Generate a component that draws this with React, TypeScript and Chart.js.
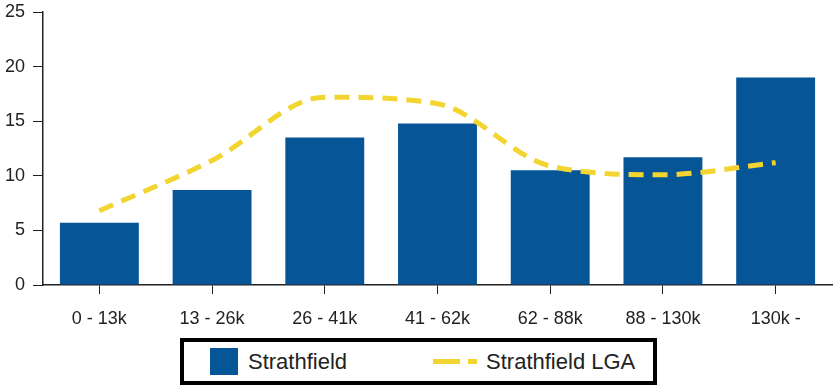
import React, { useEffect, useRef } from "react";
import { Chart, registerables } from "chart.js";

Chart.register(...registerables);

const categories = ["0 - 13k", "13 - 26k", "26 - 41k", "41 - 62k", "62 - 88k", "88 - 130k", "130k -"];
const strathfield = [5.7, 8.7, 13.5, 14.8, 10.5, 11.7, 19.0];
const strathfieldLGA = [6.8, 11.4, 17.2, 16.6, 10.9, 10.1, 11.2];
const yTicks = [0, 5, 10, 15, 20, 25];

const BLUE = "#065597";
const YELLOW = "#f3d531";
const FONT = "'Liberation Sans', Arial, sans-serif";

export default function App() {
  const ref = useRef<HTMLCanvasElement | null>(null);

  useEffect(() => {
    document.body.style.margin = "0";
    const ctx = ref.current!.getContext("2d")!;
    const chart = new Chart(ctx, {
      data: {
        labels: categories,
        datasets: [
          {
            type: "line",
            label: "Strathfield LGA",
            data: strathfieldLGA,
            borderColor: YELLOW,
            borderWidth: 5,
            borderDash: [15, 9],
            pointRadius: 0,
            cubicInterpolationMode: "monotone",
            fill: false,
            order: 0,
          },
          {
            type: "bar",
            label: "Strathfield",
            data: strathfield,
            backgroundColor: BLUE,
            categoryPercentage: 0.7,
            barPercentage: 1,
            order: 1,
          },
        ],
      },
      options: {
        responsive: false,
        animation: false,
        layout: { padding: { top: 12, right: 1, left: 0, bottom: 0 } },
        plugins: { legend: { display: false }, tooltip: { enabled: false } },
        scales: {
          x: {
            grid: { display: true, drawOnChartArea: false, offset: false, tickLength: 9, color: "#222" },
            border: { color: "#222", width: 1.5 },
            ticks: { color: "#222", font: { family: FONT, size: 18 }, padding: 14, maxRotation: 0 },
            afterFit: (s: any) => { s.height = 48; },
          },
          y: {
            min: 0,
            max: 25,
            afterBuildTicks: (s: any) => { s.ticks = yTicks.map((v) => ({ value: v })); },
            grid: { display: true, drawOnChartArea: false, tickLength: 10, color: "#222" },
            border: { color: "#222", width: 1.5 },
            ticks: { color: "#222", font: { family: FONT, size: 18 }, padding: 8 },
            afterFit: (s: any) => { s.width = 43; s.paddingTop = 0; s.paddingBottom = 0; },
          },
        },
      },
    } as any);
    return () => chart.destroy();
  }, []);

  return (
    <div style={{ position: "relative", width: 833, height: 385, background: "#fff", fontFamily: FONT }}>
      <canvas ref={ref} width={833} height={333} style={{ display: "block" }} />
      <div
        style={{
          position: "absolute",
          left: 180,
          top: 338,
          width: 469,
          height: 39,
          border: "4px solid #000",
          display: "flex",
          alignItems: "center",
          fontSize: 22,
          color: "#222",
          whiteSpace: "nowrap",
        }}
      >
        <span style={{ display: "inline-block", width: 28, height: 27, background: BLUE, marginLeft: 26, flex: "none" }} />
        <span style={{ marginLeft: 10 }}>Strathfield</span>
        <span style={{ display: "inline-block", marginLeft: 86, width: 44, height: 5, position: "relative", flex: "none" }}>
          <span style={{ position: "absolute", left: 0, top: 0, width: 27, height: 5, background: YELLOW }} />
          <span style={{ position: "absolute", left: 35, top: 0, width: 9, height: 5, background: YELLOW }} />
        </span>
        <span style={{ marginLeft: 9 }}>Strathfield LGA</span>
      </div>
    </div>
  );
}
